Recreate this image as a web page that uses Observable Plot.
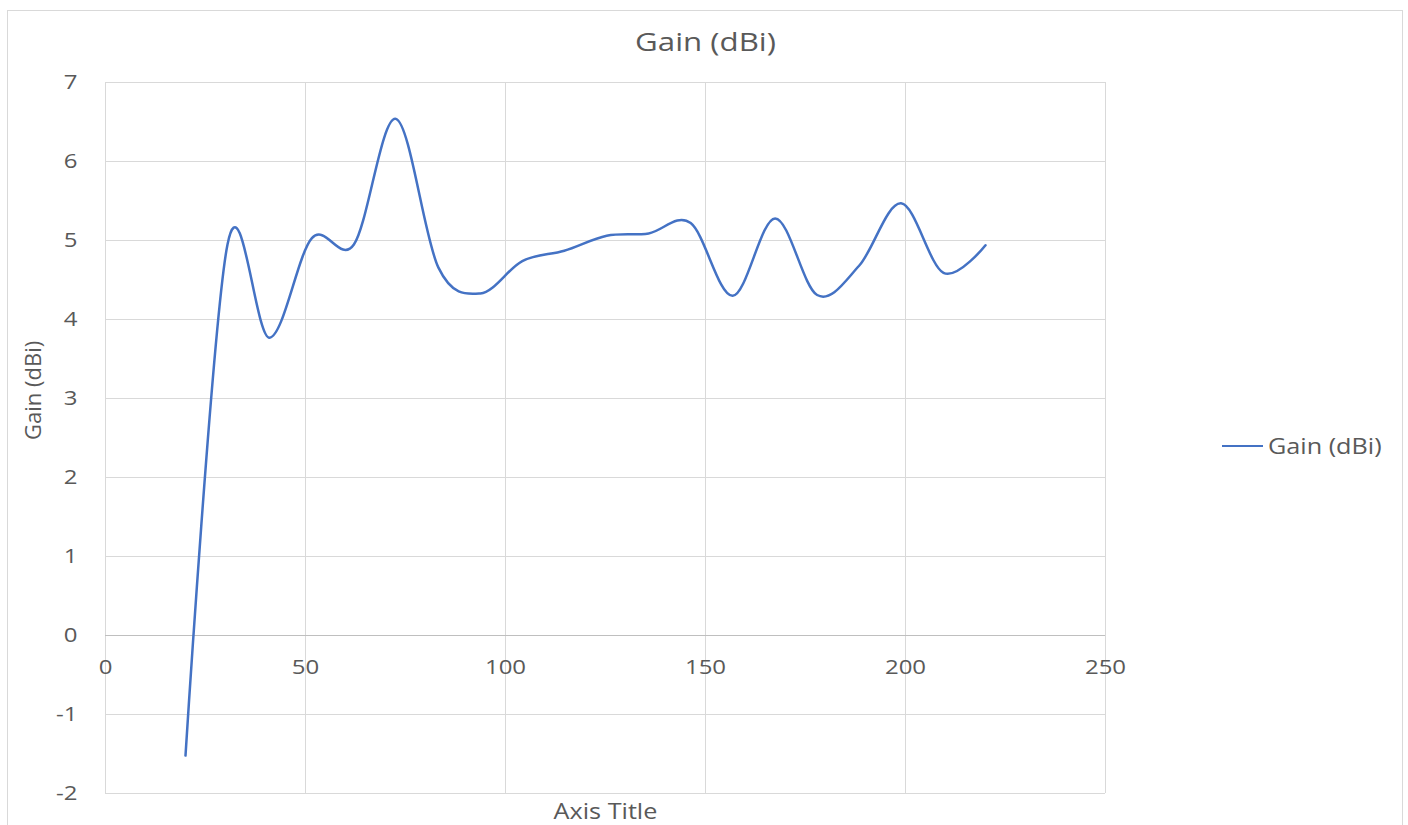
<!DOCTYPE html>
<html><head><meta charset="utf-8">
<script src="https://cdn.jsdelivr.net/npm/d3@7"></script>
<script src="https://cdn.jsdelivr.net/npm/@observablehq/plot@0.6"></script>
<style>
html,body{margin:0;padding:0;background:#fff;overflow:hidden}
#wrap{position:relative;width:1408px;height:825px}
#border{position:absolute;left:7px;top:10px;width:1396px;height:830px;border:1px solid #d9d9d9;pointer-events:none;box-sizing:border-box}
#legend{position:absolute;left:1222px;top:433px;height:26px;display:flex;align-items:center;font-family:"Open Sans",sans-serif;font-size:21px;color:#595959;white-space:nowrap}
#legend .sw{display:inline-block;width:41px;height:0;border-top:2.5px solid #4472C4;margin-right:5px}
#legend .lt{display:inline-block;transform:scaleX(1.2);transform-origin:left center}
svg text{font-family:"Open Sans",sans-serif}
</style></head><body><div id="wrap"></div>
<script>
// Data
const freq = [20, 30.5, 41, 51.6, 62.1, 72.6, 83.2, 93.7, 104.2, 114.7, 125.3, 135.8, 146.3, 156.8, 167.4, 177.9, 188.4, 198.9, 209.5, 220];
const gain = [-1.52, 4.95, 3.77, 5.03, 4.95, 6.54, 4.66, 4.33, 4.74, 4.87, 5.06, 5.09, 5.22, 4.3, 5.28, 4.31, 4.68, 5.47, 4.59, 4.94];
const xTicks = [0, 50, 100, 150, 200, 250];
const yTicks = [-2, -1, 0, 1, 2, 3, 4, 5, 6, 7];
const seriesName = "Gain (dBi)";
const chartTitle = "Gain (dBi)";
const xAxisTitle = "Axis Title";
const yAxisTitle = "Gain (dBi)";

const data = freq.map((f, i) => ({f, g: gain[i]}));
const grey = "#595959";

const chart = Plot.plot({
  width: 1408, height: 825,
  marginLeft: 105, marginRight: 303, marginTop: 82, marginBottom: 32,
  style: {background: "transparent", fontFamily: "Open Sans", color: grey, overflow: "visible"},
  x: {domain: [0, 250], axis: null},
  y: {domain: [-2, 7], axis: null},
  marks: [
    Plot.ruleX(xTicks, {x: d => d, stroke: "#d9d9d9", strokeWidth: 1}),
    Plot.ruleY(yTicks.filter(d => d !== 0), {y: d => d, stroke: "#d9d9d9", strokeWidth: 1}),
    Plot.ruleY([0], {y: d => d, stroke: "#bfbfbf", strokeWidth: 1}),
    Plot.line(data, {x: "f", y: "g", curve: "cardinal", stroke: "#4472C4", strokeWidth: 2.5}),
    Plot.text(yTicks, {x: () => 0, y: d => d, text: d => String(d), textAnchor: "end", lineAnchor: "middle", dx: -28, fontSize: 20, fill: grey, className: "stretch"}),
    Plot.text(xTicks, {x: d => d, y: () => 0, text: d => String(d), textAnchor: "middle", lineAnchor: "middle", dy: 32, fontSize: 20, fill: grey, className: "stretch"}),
    Plot.text([chartTitle], {frameAnchor: "top", text: d => d, dx: 100, dy: -40, lineAnchor: "middle", fontSize: 25, fill: grey, className: "stretch2"}),
    Plot.text([xAxisTitle], {frameAnchor: "bottom", text: d => d, dy: 19, lineAnchor: "middle", fontSize: 21, fill: grey, className: "stretch"}),
    Plot.text([yAxisTitle], {frameAnchor: "left", text: d => d, dx: -72, dy: 2, rotate: -90, lineAnchor: "middle", fontSize: 22, fill: grey})
  ]
});

function stretch(sel, s) {
  d3.select(chart).selectAll(sel).each(function() {
    const t = this.getAttribute("transform");
    if (t) {
      this.setAttribute("transform", t + ` scale(${s},1)`);
    } else {
      const x = +(this.getAttribute("x") || 0);
      this.removeAttribute("x");
      this.setAttribute("transform", `translate(${x},0) scale(${s},1)`);
    }
  });
}
stretch("g.stretch text", 1.2);
stretch("g.stretch2 text", 1.25);

const wrap = document.getElementById("wrap");
wrap.appendChild(chart);
const border = document.createElement("div");
border.id = "border";
wrap.appendChild(border);
const legend = document.createElement("div");
legend.id = "legend";
legend.innerHTML = `<span class="sw"></span><span class="lt"></span>`;
legend.querySelector(".lt").textContent = seriesName;
wrap.appendChild(legend);
chart.style.position = "absolute";
chart.style.left = "0px";
chart.style.top = "0px";
</script>
</body></html>
